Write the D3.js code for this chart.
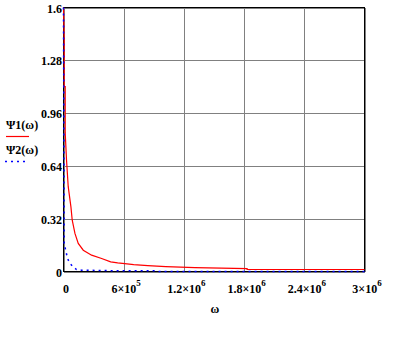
<!DOCTYPE html>
<html><head><meta charset="utf-8">
<script src="https://cdn.jsdelivr.net/npm/d3@7"></script>
<style>
html,body{margin:0;padding:0;background:#fff;}
svg{display:block;}
text{font-family:"Liberation Serif","Times New Roman",serif;fill:#000;}
</style></head>
<body>
<svg id="chart" width="400" height="337"></svg>
<script>
// ---- data ----
const psi1Omega = [0, 0, 7000, 7000, 17000, 17000, 30000, 47000, 74000, 87000, 114000, 147000, 197000, 280000, 380000, 470000, 540000, 610000, 700000, 840000, 1020000, 1310000, 1830000, 1830000, 3000000];
const psi1Value = [1.6, 1.6, 1.41, 1.12, 1.12, 0.84, 0.677, 0.514, 0.392, 0.311, 0.231, 0.17, 0.129, 0.099, 0.079, 0.058, 0.052, 0.048, 0.042, 0.036, 0.030, 0.024, 0.018, 0.012, 0.012];
const psi2Omega = [0, 7000, 40000, 64000, 97000, 130000, 180000, 470000, 920000, 950000, 3000000];
const psi2Value = [1.6, 0.17, 0.079, 0.049, 0.028, 0.012, 0.008, 0.005, 0.004, 0.0, 0.0];
const xTickValues = [0, 600000, 1200000, 1800000, 2400000, 3000000];
const xTickMant = ["0", "6", "1.2", "1.8", "2.4", "3"];
const xTickExp = [null, "5", "6", "6", "6", "6"];
const yTickValues = [0, 0.32, 0.64, 0.96, 1.28, 1.6];
const yTickLabels = ["0", "0.32", "0.64", "0.96", "1.28", "1.6"];
const seriesNames = ["\u03A81(\u03C9)", "\u03A82(\u03C9)"];
const xLabel = "\u03C9";

// ---- layout ----
const svg = d3.select("#chart");
const L = 63.5, R = 364.5, T = 7.5, B = 271.5;
const x = d3.scaleLinear().domain([0, 3000000]).range([L, R]);
const y = d3.scaleLinear().domain([0, 1.6]).range([B, T]);

// grid
const gx = svg.append("g").attr("transform", `translate(0,${B})`)
  .call(d3.axisBottom(x).tickValues(xTickValues).tickSize(-(B - T)).tickFormat((d, i) => ""));
gx.select(".domain").remove();
gx.selectAll("line").attr("stroke", "#808080").attr("shape-rendering", "crispEdges");
const gy = svg.append("g").attr("transform", `translate(${L},0)`)
  .call(d3.axisLeft(y).tickValues(yTickValues).tickSize(-(R - L)).tickFormat((d, i) => ""));
gy.select(".domain").remove();
gy.selectAll("line").attr("stroke", "#808080").attr("shape-rendering", "crispEdges");

// frame
svg.append("rect").attr("x", L).attr("y", T).attr("width", R - L).attr("height", B - T)
  .attr("fill", "none").attr("stroke", "#000").attr("stroke-width", 1).attr("shape-rendering", "crispEdges");

// tick labels via axes
const lx = svg.append("g").attr("transform", `translate(2,${B})`)
  .call(d3.axisBottom(x).tickValues(xTickValues).tickSize(0).tickPadding(0)
    .tickFormat((d, i) => xTickMant[i]));
lx.select(".domain").remove();
lx.selectAll("text").each(function(d, i) {
  const t = d3.select(this);
  t.text(null).attr("y", 21.5).attr("dy", null)
   .attr("font-size", 12).attr("font-weight", "bold").attr("font-family", "Liberation Serif");
  t.append("tspan").text(xTickExp[i] ? xTickMant[i] + "\u00D710" : xTickMant[i]);
  if (xTickExp[i]) t.append("tspan").attr("dy", -7).attr("font-size", 9).text(xTickExp[i]);
});

const ly = svg.append("g").attr("transform", `translate(${L - 1.5},0)`)
  .call(d3.axisLeft(y).tickValues(yTickValues).tickSize(0).tickPadding(0)
    .tickFormat((d, i) => yTickLabels[i]));
ly.select(".domain").remove();
ly.selectAll("text").attr("dy", null).attr("dominant-baseline", "auto").attr("y", 4.5)
  .attr("font-size", 12).attr("font-weight", "bold").attr("font-family", "Liberation Serif");

// axis title
svg.append("text").attr("x", (L + R) / 2 + 1).attr("y", 313).attr("text-anchor", "middle")
  .attr("font-size", 12).attr("font-weight", "bold").text(xLabel);

// series
const line = d3.line().x(d => x(d[0])).y(d => y(d[1]));
const s1 = psi1Omega.map((w, i) => [w, psi1Value[i]]);
const s2 = psi2Omega.map((w, i) => [w, psi2Value[i]]);
svg.append("path").attr("d", line(s1)).attr("fill", "none").attr("stroke", "#ff0000").attr("stroke-width", 1.2);
svg.append("path").attr("d", line(s2)).attr("fill", "none").attr("stroke", "#0000ff").attr("stroke-width", 1.5)
  .attr("stroke-dasharray", "2,4");

// legend
svg.append("text").attr("x", 6).attr("y", 129).attr("font-size", 12).attr("font-weight", "bold").text(seriesNames[0]);
svg.append("line").attr("x1", 6).attr("x2", 29).attr("y1", 136.5).attr("y2", 136.5).attr("stroke", "#ff0000").attr("stroke-width", 1.2);
svg.append("text").attr("x", 6).attr("y", 154).attr("font-size", 12).attr("font-weight", "bold").text(seriesNames[1]);
svg.append("line").attr("x1", 5).attr("x2", 27).attr("y1", 161.5).attr("y2", 161.5).attr("stroke", "#0000ff").attr("stroke-width", 1.5).attr("stroke-dasharray", "2,4");
</script>
</body></html>
